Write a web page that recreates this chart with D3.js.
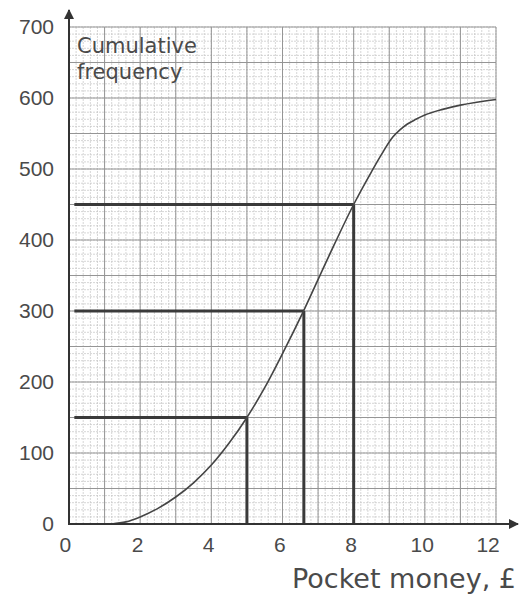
<!DOCTYPE html>
<html>
<head>
<meta charset="utf-8">
<script src="https://cdn.jsdelivr.net/npm/d3@7"></script>
<style>
  body { margin: 0; background: #fff; }
  svg { display: block; font-family: "Comic Sans MS", "DejaVu Sans", sans-serif; }
  .tick text { fill: #4a4a4a; font-size: 21px; }
  .aText { fill: #4a4a4a; }
</style>
</head>
<body>
<div id="chart"></div>
<script>
// cumulative frequency curve of pocket money
var xTicks = [0, 2, 4, 6, 8, 10, 12];
var yTicks = [0, 100, 200, 300, 400, 500, 600, 700];

var money = [1.2, 1.6, 2, 2.5, 3, 3.5, 4, 4.5, 5, 5.5, 6, 6.6, 7.3, 8, 8.5, 8.8, 9.1, 9.3, 9.5, 9.75, 10, 10.5, 11, 12];
var cumFreq = [0, 3, 10, 22, 38, 58, 83, 114, 150, 192, 240, 301, 377, 450, 496, 522, 545, 555, 563, 570, 576, 584, 590, 598];

// quartile read-offs (lower quartile, median, upper quartile)
var readMoney = [5, 6.6, 8];
var readFreq = [150, 300, 450];

var svgWidth = 519;
var svgHeight = 599;

var svg = d3.select("#chart")
    .append("svg")
    .attr("width", svgWidth)
    .attr("height", svgHeight);

var x = d3.scaleLinear().domain([0, 12]).range([69, 496]);
var y = d3.scaleLinear().domain([0, 700]).range([524, 27]);

// graph paper: minor every 0.2 / 10, major every 1 / 50
var grid = svg.append("g");
grid.selectAll(".vminor")
    .data(d3.range(0, 12.01, 0.2))
    .enter().append("line")
    .attr("x1", d => x(d)).attr("x2", d => x(d))
    .attr("y1", y(0)).attr("y2", y(700))
    .attr("stroke", "#c4c4c4").attr("stroke-width", 0.7)
    .attr("stroke-dasharray", "2,1");
grid.selectAll(".hminor")
    .data(d3.range(0, 701, 10))
    .enter().append("line")
    .attr("y1", d => y(d)).attr("y2", d => y(d))
    .attr("x1", x(0)).attr("x2", x(12))
    .attr("stroke", "#c4c4c4").attr("stroke-width", 0.7)
    .attr("stroke-dasharray", "2,1");
grid.selectAll(".vmajor")
    .data(d3.range(0, 13, 1))
    .enter().append("line")
    .attr("x1", d => x(d)).attr("x2", d => x(d))
    .attr("y1", y(0)).attr("y2", y(700))
    .attr("stroke", "#959595").attr("stroke-width", 1);
grid.selectAll(".hmajor")
    .data(d3.range(0, 701, 50))
    .enter().append("line")
    .attr("y1", d => y(d)).attr("y2", d => y(d))
    .attr("x1", x(0)).attr("x2", x(12))
    .attr("stroke", "#959595").attr("stroke-width", 1);

// reading lines
var reads = readMoney.map((m, i) => ({m: m, f: readFreq[i]}));
svg.selectAll(".hread")
    .data(reads)
    .enter().append("line")
    .attr("x1", x(0.15)).attr("x2", d => x(d.m))
    .attr("y1", d => y(d.f)).attr("y2", d => y(d.f))
    .attr("stroke", "#3a3a3a").attr("stroke-width", 3);
svg.selectAll(".vread")
    .data(reads)
    .enter().append("line")
    .attr("x1", d => x(d.m)).attr("x2", d => x(d.m))
    .attr("y1", d => y(d.f)).attr("y2", y(0))
    .attr("stroke", "#3a3a3a").attr("stroke-width", 3);

// the curve
var line = d3.line()
    .x(d => x(d[0]))
    .y(d => y(d[1]))
    .curve(d3.curveMonotoneX);
svg.append("path")
    .datum(money.map((m, i) => [m, cumFreq[i]]))
    .attr("d", line)
    .attr("fill", "none")
    .attr("stroke", "#444")
    .attr("stroke-width", 1.6);

// axes with arrows
svg.append("defs").append("marker")
    .attr("id", "arrow")
    .attr("viewBox", "0 0 10 10")
    .attr("refX", 9).attr("refY", 5)
    .attr("markerWidth", 5).attr("markerHeight", 5)
    .attr("orient", "auto")
    .append("path")
    .attr("d", "M0,0 L10,5 L0,10 z")
    .attr("fill", "#333");

svg.append("line")
    .attr("x1", x(0)).attr("x2", x(0))
    .attr("y1", y(0) + 1).attr("y2", 10)
    .attr("stroke", "#333").attr("stroke-width", 2)
    .attr("marker-end", "url(#arrow)");
svg.append("line")
    .attr("x1", x(0) - 1).attr("x2", 518)
    .attr("y1", y(0)).attr("y2", y(0))
    .attr("stroke", "#333").attr("stroke-width", 2)
    .attr("marker-end", "url(#arrow)");

var leftAxis = d3.axisLeft(y).tickValues(yTicks).tickSize(0).tickPadding(15);
var bottomAxis = d3.axisBottom(x).tickValues(xTicks).tickSize(0).tickPadding(13);

svg.append("g")
    .attr("transform", `translate(${x(0)}, 0)`)
    .call(leftAxis)
    .call(g => g.select(".domain").remove())
    .selectAll("text").attr("font-family", null).attr("font-size", null);

svg.append("g")
    .attr("transform", `translate(0, ${y(0)})`)
    .call(bottomAxis)
    .call(g => g.select(".domain").remove())
    .selectAll("text").attr("font-family", null).attr("font-size", null)
    .attr("dx", d => d === 0 ? "-0.2em" : d === 12 ? "-0.4em" : "-0.15em");

// labels
svg.append("text")
    .attr("class", "aText")
    .attr("x", 77).attr("y", 53)
    .style("font-size", "21px")
    .text("Cumulative");
svg.append("text")
    .attr("class", "aText")
    .attr("x", 77).attr("y", 79)
    .style("font-size", "21px")
    .text("frequency");

svg.append("text")
    .attr("class", "aText")
    .attr("x", 516).attr("y", 588)
    .attr("text-anchor", "end")
    .style("font-size", "27px")
    .text("Pocket money, £");
</script>
</body>
</html>
